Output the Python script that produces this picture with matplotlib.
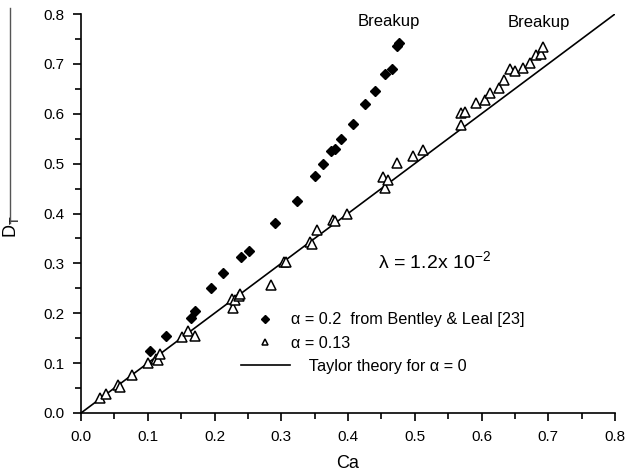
import matplotlib.pyplot as plt
from matplotlib.lines import Line2D

plt.rcParams['font.family'] = ['Liberation Sans', 'DejaVu Sans']
plt.rcParams['mathtext.fontset'] = 'custom'
plt.rcParams['mathtext.rm'] = 'Liberation Sans'

# alpha = 0.2, Bentley & Leal
ca_02 = [0.104, 0.127, 0.165, 0.171, 0.195, 0.212, 0.240, 0.251, 0.290, 0.324,
         0.351, 0.362, 0.375, 0.381, 0.390, 0.408, 0.425, 0.440, 0.455, 0.466,
         0.474, 0.477]
d_02 = [0.125, 0.155, 0.190, 0.205, 0.250, 0.280, 0.312, 0.325, 0.380, 0.426,
        0.475, 0.500, 0.525, 0.530, 0.550, 0.579, 0.620, 0.645, 0.680, 0.689,
        0.736, 0.741]

# alpha = 0.13
ca_013 = [0.028, 0.038, 0.056, 0.058, 0.077, 0.100, 0.113, 0.116, 0.118, 0.151,
          0.161, 0.171, 0.226, 0.227, 0.231, 0.236, 0.238, 0.284, 0.304, 0.307,
          0.343, 0.346, 0.354, 0.378, 0.381, 0.398, 0.455, 0.453, 0.460, 0.473,
          0.497, 0.512, 0.570, 0.569, 0.576, 0.592, 0.605, 0.612, 0.626, 0.633,
          0.642, 0.650, 0.662, 0.673, 0.681, 0.689, 0.692]
d_013 = [0.031, 0.039, 0.056, 0.053, 0.077, 0.101, 0.108, 0.107, 0.118, 0.152,
         0.164, 0.154, 0.228, 0.210, 0.227, 0.235, 0.239, 0.257, 0.303, 0.303,
         0.342, 0.339, 0.366, 0.386, 0.384, 0.400, 0.451, 0.474, 0.467, 0.501,
         0.515, 0.527, 0.577, 0.601, 0.603, 0.621, 0.628, 0.642, 0.651, 0.668,
         0.689, 0.685, 0.692, 0.702, 0.718, 0.720, 0.733]

# Taylor theory, alpha = 0
ca_taylor = [0.0, 0.8]
d_taylor = [0.0, 0.8]

fig = plt.figure(figsize=(6.26, 4.76), dpi=100)
ax = fig.add_axes([81 / 626, 63 / 476, 534 / 626, 399 / 476])

ax.plot(ca_taylor, d_taylor, color='black', lw=1.2, label='Taylor theory for α = 0')
ax.plot(ca_02, d_02, linestyle='none', marker='D', ms=5.5, color='black',
        label='α = 0.2  from Bentley & Leal [23]')
ax.plot(ca_013, d_013, linestyle='none', marker='^', ms=6.5, mfc='white',
        mec='black', mew=1.1, label='α = 0.13')

ax.set_xlim(0, 0.8)
ax.set_ylim(0, 0.8)
ax.set_xticks([0.0, 0.1, 0.2, 0.3, 0.4, 0.5, 0.6, 0.7, 0.8])
ax.set_yticks([0.0, 0.1, 0.2, 0.3, 0.4, 0.5, 0.6, 0.7, 0.8])
ax.set_xticks([0.05, 0.15, 0.25, 0.35, 0.45, 0.55, 0.65, 0.75], minor=True)
ax.set_yticks([0.05, 0.15, 0.25, 0.35, 0.45, 0.55, 0.65, 0.75], minor=True)
ax.set_xticklabels(['0.0', '0.1', '0.2', '0.3', '0.4', '0.5', '0.6', '0.7', '0.8'])
ax.set_yticklabels(['0.0', '0.1', '0.2', '0.3', '0.4', '0.5', '0.6', '0.7', '0.8'])
ax.tick_params(which='major', direction='out', length=6, width=1.2, labelsize=11, pad=6)
ax.tick_params(which='minor', direction='out', length=4, width=1.2)
ax.spines['top'].set_visible(False)
ax.spines['right'].set_visible(False)
ax.spines['left'].set_linewidth(1.2)
ax.spines['bottom'].set_linewidth(1.2)

ax.set_xlabel('Ca', fontsize=13)
ax.xaxis.set_label_coords(0.5, -0.105)
ax.set_ylabel('D$_{\\mathregular{T}}$', fontsize=13)
ax.yaxis.set_label_coords(-0.112, 0.466)
fig.add_artist(Line2D([10 / 626, 10 / 626], [1 - 8 / 476, 1 - 223 / 476],
                      color='#555555', lw=1.0))

ax.text(0.461, 0.784, 'Breakup', fontsize=12, ha='center', va='center')
ax.text(0.686, 0.782, 'Breakup', fontsize=12, ha='center', va='center')
ax.text(0.445, 0.303, 'λ = 1.2x 10$^{\\mathregular{-2}}$', fontsize=14,
        ha='left', va='center')

h, l = ax.get_legend_handles_labels()
order = [1, 2, 0]
l[0] = '    ' + l[0]
ax.legend([h[i] for i in order], [l[i] for i in order], loc='upper left',
          bbox_to_anchor=(0.2996, 0.252), frameon=False, fontsize=11.7,
          handlelength=3.0, handletextpad=0.1, labelspacing=0.5,
          borderpad=0, borderaxespad=0, markerscale=0.7)

fig.savefig('out.png', dpi=100)
